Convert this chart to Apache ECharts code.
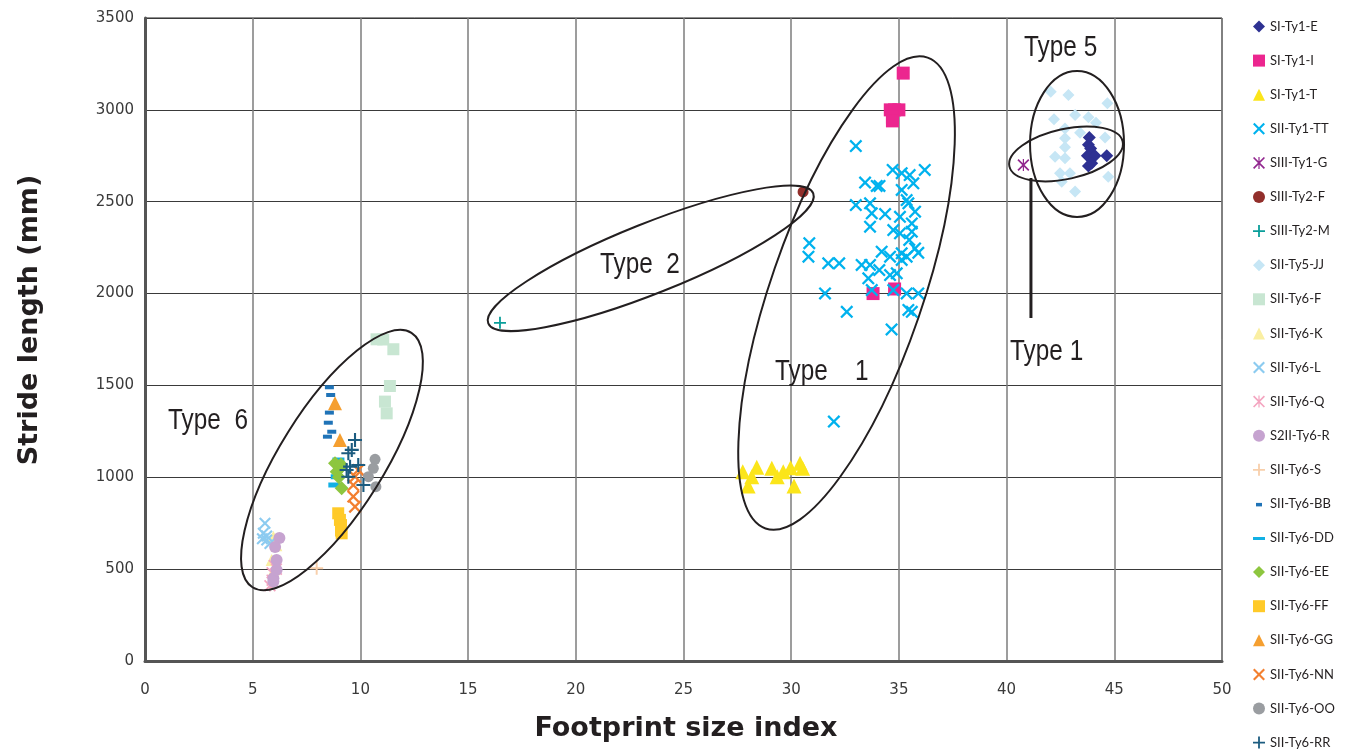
<!DOCTYPE html>
<html><head><meta charset="utf-8">
<script src="https://cdn.jsdelivr.net/npm/echarts@6/dist/echarts.min.js"></script>
<style>html,body{margin:0;padding:0;background:#fff}#c{width:1351px;height:753px}</style>
</head><body><div id="c"></div>
<script>
// ---------------- data ----------------
const seriesNames = ['SI-Ty1-E','SI-Ty1-I','SI-Ty1-T','SII-Ty1-TT','SIII-Ty1-G','SIII-Ty2-F','SIII-Ty2-M','SII-Ty5-JJ','SII-Ty6-F','SII-Ty6-K','SII-Ty6-L','SII-Ty6-Q','S2II-Ty6-R','SII-Ty6-S','SII-Ty6-BB','SII-Ty6-DD','SII-Ty6-EE','SII-Ty6-FF','SII-Ty6-GG','SII-Ty6-NN','SII-Ty6-OO','SII-Ty6-RR'];

const SI_Ty1_E = [[43.84,2850],[43.8,2810],[43.9,2790],[43.75,2750],[44.1,2750],[44.65,2750],[43.95,2710],[43.8,2695]];
const SI_Ty1_I = [[35.2,3200],[34.6,3000],[34.8,3000],[35.0,3000],[34.7,2960],[34.7,2940],[33.8,2000],[34.8,2025]];
const SI_Ty1_T = [[27.75,1030],[28.4,1054],[28.17,1003],[28.0,952],[29.1,1049],[29.35,1003],[29.63,1030],[29.97,1052],[30.41,1076],[30.53,1049],[30.13,952]];
const SII_Ty1_TT = [[33.0,2803],[34.71,2673],[35.13,2655],[35.5,2645],[36.2,2673],[33.43,2604],[33.97,2586],[34.1,2586],[35.67,2600],[35.13,2564],[35.36,2509],[35.44,2491],[35.75,2446],[33.0,2482],[33.66,2491],[33.74,2437],[34.36,2433],[35.05,2418],[33.66,2364],[34.74,2346],[35.05,2328],[35.6,2382],[35.6,2337],[35.48,2292],[30.84,2274],[30.8,2201],[31.72,2165],[32.23,2165],[33.27,2156],[33.66,2156],[34.2,2228],[34.59,2201],[35.13,2219],[35.36,2201],[35.75,2246],[35.9,2222],[35.13,2183],[34.09,2128],[33.58,2083],[34.59,2101],[34.9,2110],[33.74,2019],[34.74,2019],[35.36,2001],[35.9,2001],[31.57,2001],[32.58,1901],[35.44,1911],[35.6,1901],[34.66,1805],[31.98,1303]];
const SIII_Ty1_G = [[40.78,2700]];
const SIII_Ty2_F = [[30.55,2553]];
const SIII_Ty2_M = [[16.48,1841]];
const SII_Ty5_JJ = [[42.05,3099],[42.87,3081],[44.68,3036],[42.2,2949],[43.18,2972],[43.8,2960],[44.15,2930],[42.71,2899],[44.57,2850],[42.71,2845],[43.41,2876],[42.71,2796],[42.25,2745],[42.71,2736],[42.48,2655],[42.94,2655],[42.56,2609],[43.18,2555],[44.72,2636]];
const SII_Ty6_F = [[10.75,1751],[11.06,1750],[11.53,1697],[11.37,1497],[11.14,1412],[11.22,1348]];
const SII_Ty6_K = [[5.96,677],[6.1,630],[5.88,550],[6.0,500]];
const SII_Ty6_L = [[5.57,750],[5.49,695],[5.65,680],[5.65,659],[5.8,640],[5.45,665]];
const SII_Ty6_Q = [[6.0,520],[5.9,480],[6.1,500],[5.9,440],[5.8,410]];
const S2II_Ty6_R = [[6.24,670],[6.04,620],[6.11,550],[6.11,496],[5.96,450],[5.96,433]];
const SII_Ty6_S = [[7.97,505]];
const SII_Ty6_BB = [[8.56,1490],[8.62,1448],[8.56,1352],[8.51,1297],[8.67,1248],[8.47,1221]];
const SII_Ty6_DD = [[8.98,1094],[8.9,1003],[8.79,958]];
const SII_Ty6_EE = [[8.82,1076],[9.05,1049],[8.9,1030],[9.1,1070],[9.13,940],[9.0,1000]];
const SII_Ty6_FF = [[8.97,804],[9.05,768],[9.1,740],[9.1,710],[9.13,695]];
const SII_Ty6_GG = [[8.82,1403],[9.05,1203]];
const SII_Ty6_NN = [[9.9,1040],[9.75,1003],[9.67,958],[9.67,895],[9.75,840]];
const SII_Ty6_OO = [[10.68,1098],[10.6,1049],[10.37,1003],[10.72,949]];
const SII_Ty6_RR = [[9.75,1203],[9.6,1149],[9.44,1131],[9.52,1058],[9.9,1067],[9.36,1040],[10.14,958],[9.44,1003]];

const seriesData = [SI_Ty1_E,SI_Ty1_I,SI_Ty1_T,SII_Ty1_TT,SIII_Ty1_G,SIII_Ty2_F,SIII_Ty2_M,SII_Ty5_JJ,SII_Ty6_F,SII_Ty6_K,SII_Ty6_L,SII_Ty6_Q,S2II_Ty6_R,SII_Ty6_S,SII_Ty6_BB,SII_Ty6_DD,SII_Ty6_EE,SII_Ty6_FF,SII_Ty6_GG,SII_Ty6_NN,SII_Ty6_OO,SII_Ty6_RR];

// annotation labels
const typeLabels = ['Type  6','Type  2','Type    1','Type 1','Type 5'];

// ---------------- styles ----------------
const X_PATH = 'path://M0,2.5 L2.5,0 L10,7.5 L17.5,0 L20,2.5 L12.5,10 L20,17.5 L17.5,20 L10,12.5 L2.5,20 L0,17.5 L7.5,10 Z';
const PLUS_PATH = 'path://M8.5,0 H11.5 V8.5 H20 V11.5 H11.5 V20 H8.5 V11.5 H0 V8.5 H8.5 Z';
const STAR_PATH = 'path://M0,2 L2,0 L20,18 L18,20 Z M18,0 L20,2 L2,20 L0,18 Z M9,0 H11 V20 H9 Z';
const BB_ICON = 'path://M0,0 M12,12 M3,5 H9 V8.5 H3 Z';
const DD_ICON = 'path://M0,0 M12,12 M0,5 H12 V8 H0 Z';
const styles = [
  {c:'#2e3192', s:'diamond', z:13},
  {c:'#ec268f', s:'rect', z:13},
  {c:'#fbe51a', s:'triangle', z:15},
  {c:'#00b2ee', s:X_PATH, z:13},
  {c:'#92278f', s:STAR_PATH, z:12},
  {c:'#922f2b', s:'circle', z:11},
  {c:'#0a9e9a', s:PLUS_PATH, z:12},
  {c:'#c6e6f5', s:'diamond', z:12},
  {c:'#c8e6d2', s:'rect', z:12},
  {c:'#faefa2', s:'triangle', z:12},
  {c:'#8ccbf0', s:X_PATH, z:12},
  {c:'#f4a5c0', s:STAR_PATH, z:12},
  {c:'#c6a3d0', s:'circle', z:12},
  {c:'#f8cfab', s:PLUS_PATH, z:13},
  {c:'#1f73b7', s:'rect', z:[9,4], icon: BB_ICON},
  {c:'#12b0e4', s:'rect', z:[12,5], icon: DD_ICON},
  {c:'#8dc63f', s:'diamond', z:14},
  {c:'#ffca29', s:'rect', z:12},
  {c:'#f59f30', s:'triangle', z:14},
  {c:'#f37f2f', s:X_PATH, z:13},
  {c:'#9a9da1', s:'circle', z:11},
  {c:'#1c5c80', s:PLUS_PATH, z:14}
];

const chart = echarts.init(document.getElementById('c'), null, {renderer:'canvas'});
const GL = 145, GT = 18, GR = 1351-1222, GB = 753-661;

const option = {
  animation: false,
  backgroundColor: '#ffffff',
  grid: {left: GL, top: GT, right: GR, bottom: GB, show: true, borderColor: '#222', borderWidth: 1, containLabel: false, outerBoundsMode: 'none'},
  legend: {
    orient: 'vertical', left: 1253, top: 20, padding: 0,
    itemWidth: 12, itemHeight: 12, itemGap: 21.1,
    data: seriesNames.map((n, i) => styles[i].icon ? {name: n, icon: styles[i].icon} : n),
    textStyle: {fontFamily: 'Lato, "Liberation Sans", sans-serif', fontSize: 13, color: '#231f20', lineHeight: 12}
  },
  xAxis: {
    type: 'value', min: 0, max: 50, interval: 5,
    axisLine: {show: true, onZero: false, lineStyle: {color: '#555', width: 3}},
    axisTick: {show: false},
    axisLabel: {margin: 22, color: '#3a3a3a', fontFamily: '"DejaVu Sans", sans-serif', fontSize: 15, formatter: v => String(v)},
    splitLine: {show: true, lineStyle: {color: '#7d7d7d', width: 1.5}}
  },
  yAxis: {
    type: 'value', min: 0, max: 3500, interval: 500,
    axisLine: {show: true, onZero: false, lineStyle: {color: '#555', width: 3}},
    axisTick: {show: false},
    axisLabel: {margin: 11, color: '#3a3a3a', fontFamily: '"DejaVu Sans", sans-serif', fontSize: 15, formatter: v => String(v)},
    splitLine: {show: true, lineStyle: {color: '#3a3a3a', width: 1.2}}
  },
  series: seriesNames.map((n, i) => ({
    name: n, type: 'scatter', data: seriesData[i],
    symbol: styles[i].s, symbolSize: styles[i].z,
    itemStyle: {color: styles[i].c, opacity: 1},
    emphasis: {disabled: true}
  }))
};
chart.setOption(option);

// ---------------- annotations (ellipses, labels, pointer line) ----------------
const px = p => chart.convertToPixel({gridIndex: 0}, p);
const ellipses = [
  {center: [8.68, 1094], rx: 150, ry: 52, angle: 58},
  {center: [23.48, 2192], rx: 175, ry: 35, angle: 21.8},
  {center: [32.57, 2003], rx: 249, ry: 76, angle: 71},
  {center: [43.27, 2814], rx: 47, ry: 73, angle: 0},
  {center: [42.76, 2760], rx: 58, ry: 25, angle: 12.4}
];
const labelPos = [[1.07,1306],[21.12,2156],[29.25,1573],[40.16,1682],[40.81,3337]];
const g = [];
ellipses.forEach(e => {
  const c = px(e.center);
  g.push({type: 'ellipse', x: c[0], y: c[1], rotation: e.angle * Math.PI / 180,
    shape: {cx: 0, cy: 0, rx: e.rx, ry: e.ry},
    style: {fill: null, stroke: '#231f20', lineWidth: 2}, z: 100, silent: true});
});
typeLabels.forEach((t, i) => {
  const p = px(labelPos[i]);
  g.push({type: 'text', x: p[0], y: p[1], scaleX: 0.84, style: {text: t, fill: '#231f20', font: '29px "Liberation Sans", sans-serif', textAlign: 'left', textVerticalAlign: 'middle'}, z: 101, silent: true});
});
const l1 = px([41.13, 2629]), l2 = px([41.13, 1867]);
g.push({type: 'line', shape: {x1: l1[0], y1: l1[1], x2: l2[0], y2: l2[1]}, style: {stroke: '#231f20', lineWidth: 3}, z: 100, silent: true});
// axis titles
g.push({type: 'text', x: 686, y: 729, style: {text: 'Footprint size index', fill: '#231f20', font: 'bold 27px "DejaVu Sans", sans-serif', textAlign: 'center', textVerticalAlign: 'middle'}, z: 101});
g.push({type: 'text', x: 30, y: 320, rotation: Math.PI / 2, style: {text: 'Stride length (mm)', fill: '#231f20', font: 'bold 27px "DejaVu Sans", sans-serif', textAlign: 'center', textVerticalAlign: 'middle'}, z: 101});
chart.setOption({graphic: {elements: g}});
</script>
</body></html>
